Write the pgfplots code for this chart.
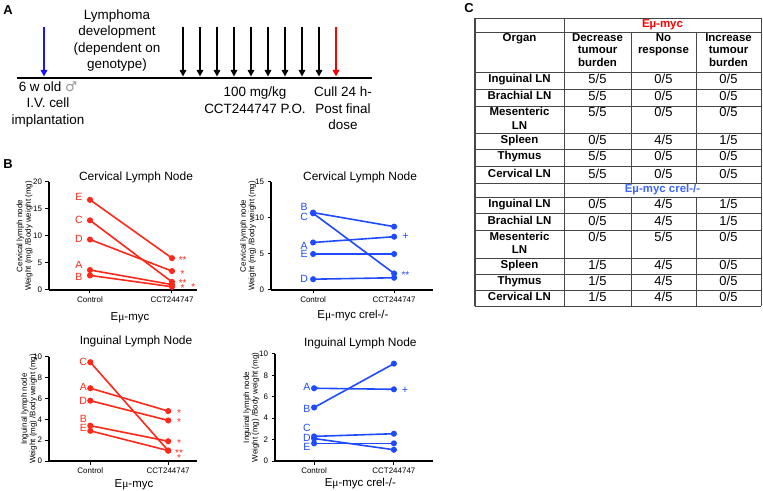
\documentclass[border=0pt]{standalone}
\usepackage{fontspec}
\setmainfont{Liberation Sans}
\newfontfamily\serifmu{Liberation Serif}
\newfontfamily\dejavu{DejaVu Sans}
\usepackage{pgfplots}
\pgfplotsset{compat=1.18}
\usetikzlibrary{arrows.meta}
\definecolor{myred}{RGB}{255,40,25}
\definecolor{myblue}{RGB}{30,75,255}
\definecolor{arrblue}{RGB}{20,20,255}
\definecolor{tabblue}{RGB}{60,100,255}
\definecolor{tabline}{RGB}{70,70,70}
\newcommand{\mmu}{{\serifmu μ}}

\pgfplotsset{
  gp/.style={
    scale only axis, clip=false,
    axis lines=left, axis line style={-, line width=1.2bp, black},
    tick align=outside, major tick length=3.5bp,
    tick style={black, line width=1bp},
    xtick={0,1}, xticklabels={Control,CCT244747},
    tick label style={font=\fontsize{8}{9}\selectfont},
    /pgf/number format/assume math mode=true,
    ymin=0,
    ylabel style={align=center, font=\fontsize{8}{8.6}\selectfont, anchor=center},
    title style={font=\fontsize{12}{14}\selectfont, anchor=center},
    xlabel style={font=\fontsize{11.5}{13}\selectfont, anchor=center},
  },
  rl/.style={color=myred, line width=1.6bp, mark=*, mark size=2.2bp, mark options={fill=myred, draw=myred}},
  bl/.style={color=myblue, line width=1.6bp, mark=*, mark size=2.2bp, mark options={fill=myblue, draw=myblue}},
}
\newcommand{\lab}[4]{\node[text=#1, font=\fontsize{10.5}{11}\selectfont, inner sep=0] at (axis cs:#2,#3) {#4};}
\newcommand{\astk}[4]{\node[text=#1, font=\fontsize{10}{11}\selectfont, inner sep=0, yshift=-2bp] at (axis cs:#2,#3) {#4};}

\tikzset{
  of/.style={font=\bfseries\fontsize{11.5}{13}\selectfont, text height=8.3bp, text depth=2.3bp, inner sep=0},
  hf/.style={font=\bfseries\fontsize{11.5}{13}\selectfont, inner sep=0, anchor=north, align=center},
  vf/.style={font=\fontsize{13}{14}\selectfont, text height=9.4bp, text depth=2.6bp, inner sep=0},
}
\newcommand{\vals}[4]{%
  \node[vf] at (597.5,#1) {#2};
  \node[vf] at (663.5,#1) {#3};
  \node[vf] at (728.5,#1) {#4};}

\begin{document}
\begin{tikzpicture}
\useasboundingbox (0,0) rectangle (763bp,491bp);

%% ---------------- Panel A and C (drawn in pixel coordinates, y downward)
\begin{scope}[x=1bp, y=-1bp, yshift=491bp]
  \node[font=\bfseries\fontsize{13}{14}\selectfont] at (8,10) {A};
  \node[font=\bfseries\fontsize{13}{14}\selectfont] at (8,164) {B};
  \node[font=\bfseries\fontsize{13}{14}\selectfont] at (469,8) {C};

  % timeline
  \draw[line width=2bp] (17,78) -- (372,78);
  \draw[arrblue, line width=1.5bp, -{Triangle[width=6.5bp,length=6.5bp]}] (44,27) -- (44,76.5);
  \foreach \x in {183,200,217,234,251,268,285,302,319}
    \draw[black, line width=1.5bp, -{Triangle[width=6.5bp,length=6.5bp]}] (\x,27) -- (\x,76.5);
  \draw[red, line width=1.5bp, -{Triangle[width=6.5bp,length=6.5bp]}] (336,27) -- (336,76.5);

  \node[align=center, font=\fontsize{13.5}{16.6}\selectfont] at (117,40.5)
    {Lymphoma\\development\\(dependent on\\genotype)};
  \node[align=center, font=\fontsize{13.5}{16.6}\selectfont] at (48,104.5)
    {6 w old {\dejavu\color{gray!80}♂}\\I.V. cell\\implantation};
  \node[align=center, font=\fontsize{13.5}{16.6}\selectfont] at (255,100)
    {100 mg/kg\\CCT244747 P.O.};
  \node[align=center, font=\fontsize{13.5}{16.6}\selectfont] at (343,108.5)
    {Cull 24 h-\\Post final\\dose};

  % table C
  \foreach \yy in {18,32,72.3,89.3,106,133.3,149,166.7,183,197,213,230,258,274,290,306}
    \draw[tabline, line width=0.9bp] (475,\yy) -- (761,\yy);
  \draw[tabline, line width=1.4bp] (475,18) -- (475,306);
  \draw[tabline, line width=0.9bp] (564,18) -- (564,306);
  \draw[tabline, line width=0.9bp] (761,18) -- (761,306);
  \draw[tabline, line width=0.9bp] (631,32) -- (631,183) (696,32) -- (696,183);
  \draw[tabline, line width=0.9bp] (631,197) -- (631,306) (696,197) -- (696,306);

  \node[of, text=red] at (662.5,25) {E\textmu-myc};
  \node[hf] at (519.5,33.5) {Organ};
  \node[hf] at (597.5,33.5) {Decrease\\[-0.6bp]tumour\\[-0.6bp]burden};
  \node[hf] at (663.5,33.5) {No\\[-0.6bp]response};
  \node[hf] at (728.5,33.5) {Increase\\[-0.6bp]tumour\\[-0.6bp]burden};

  \node[of] at (519.5,80) {Inguinal LN};   \vals{80.5}{5/5}{0/5}{0/5}
  \node[of] at (519.5,97) {Brachial LN};   \vals{97.5}{5/5}{0/5}{0/5}
  \node[of] at (519.5,112.7) {Mesenteric}; \node[of] at (519.5,126.3) {LN};
                                           \vals{113}{5/5}{0/5}{0/5}
  \node[of] at (519.5,141) {Spleen};       \vals{141.5}{0/5}{4/5}{1/5}
  \node[of] at (519.5,157) {Thymus};       \vals{157.5}{5/5}{0/5}{0/5}
  \node[of] at (519.5,174.5) {Cervical LN};\vals{175}{5/5}{0/5}{0/5}

  \node[of, text=tabblue] at (662.5,190) {E\textmu-myc crel-/-};

  \node[of] at (519.5,205) {Inguinal LN};  \vals{205.5}{0/5}{4/5}{1/5}
  \node[of] at (519.5,221.5) {Brachial LN};\vals{222}{0/5}{4/5}{1/5}
  \node[of] at (519.5,237.3) {Mesenteric}; \node[of] at (519.5,250.7) {LN};
                                           \vals{238}{0/5}{5/5}{0/5}
  \node[of] at (519.5,266) {Spleen};       \vals{266.5}{1/5}{4/5}{0/5}
  \node[of] at (519.5,282) {Thymus};       \vals{282.5}{1/5}{4/5}{0/5}
  \node[of] at (519.5,298) {Cervical LN};  \vals{298.5}{1/5}{4/5}{0/5}
\end{scope}

%% ---------------- Top-left: Eu-myc cervical
\begin{axis}[gp, at={(49bp,201bp)}, anchor=south west, width=148bp, height=108bp,
  xmin=-0.5, xmax=1.305, ymax=20, ytick={0,5,10,15,20},
  title={Cervical Lymph Node}, title style={at={(axis description cs:0.588,0.99)}},
  xlabel={E\mmu-myc}, xlabel style={at={(axis description cs:0.547,-0.26)}},
  ylabel={Cervical lymph node\\Weight (mg) /Body weight (mg)},
  ylabel style={at={(axis description cs:-0.165,0.5)}}]
\addplot[rl] coordinates {(0,3.7) (1,1.0)};
\addplot[rl] coordinates {(0,2.7) (1,0.6)};
\addplot[rl] coordinates {(0,12.9) (1,1.5)};
\addplot[rl] coordinates {(0,9.35) (1,3.5)};
\addplot[rl] coordinates {(0,16.7) (1,5.9)};
\lab{myred}{-0.135}{17.2}{E}
\lab{myred}{-0.135}{12.9}{C}
\lab{myred}{-0.135}{9.5}{D}
\lab{myred}{-0.135}{4.6}{A}
\lab{myred}{-0.135}{2.5}{B}
\astk{myred}{1.13}{5.9}{**}
\astk{myred}{1.13}{3.4}{*}
\astk{myred}{1.13}{1.6}{**}
\astk{myred}{1.13}{0.65}{*}
\astk{myred}{1.26}{0.9}{*}
\end{axis}

%% ---------------- Top-right: Eu-myc crel-/- cervical
\begin{axis}[gp, at={(271bp,201bp)}, anchor=south west, width=162bp, height=108bp,
  xmin=-0.52, xmax=1.48, ymax=15, ytick={0,5,10,15},
  title={Cervical Lymph Node}, title style={at={(axis description cs:0.55,0.99)}},
  xlabel={E\mmu-myc crel-/-}, xlabel style={at={(axis description cs:0.506,-0.24)}},
  ylabel={Cervical lymph node\\Weight (mg) /Body weight (mg)},
  ylabel style={at={(axis description cs:-0.142,0.5)}}]
\addplot[bl] coordinates {(0,6.6) (1,7.4)};
\addplot[bl] coordinates {(0,10.75) (1,8.8)};
\addplot[bl] coordinates {(0,10.65) (1,2.3)};
\addplot[bl] coordinates {(0,1.5) (1,1.7)};
\addplot[bl] coordinates {(0,5.0) (1,5.0)};
\lab{myblue}{-0.11}{11.5}{B}
\lab{myblue}{-0.11}{10.1}{C}
\lab{myblue}{-0.11}{6.1}{A}
\lab{myblue}{-0.11}{5.0}{E}
\lab{myblue}{-0.11}{1.5}{D}
\node[text=myblue, font=\fontsize{11}{12}\selectfont, inner sep=0] at (axis cs:1.14,7.4) {+};
\astk{myblue}{1.14}{2.4}{**}
\end{axis}

%% ---------------- Bottom-left: Eu-myc inguinal
\begin{axis}[gp, at={(49bp,30bp)}, anchor=south west, width=148bp, height=104bp,
  xmin=-0.53, xmax=1.37, ymax=10, ytick={0,2,4,6,8,10},
  title={Inguinal Lymph Node}, title style={at={(axis description cs:0.588,1.096)}},
  xlabel={E\mmu-myc}, xlabel style={at={(axis description cs:0.574,-0.23)}},
  ylabel={Inguinal lymph node\\Weight (mg) /Body weight (mg)},
  ylabel style={at={(axis description cs:-0.135,0.5)}}]
\addplot[rl] coordinates {(0,7.0) (1,4.8)};
\addplot[rl] coordinates {(0,3.4) (1,1.9)};
\addplot[rl] coordinates {(0,9.5) (1,1.0)};
\addplot[rl] coordinates {(0,5.8) (1,3.9)};
\addplot[rl] coordinates {(0,2.9) (1,1.0)};
\lab{myred}{-0.09}{9.5}{C}
\lab{myred}{-0.09}{7.1}{A}
\lab{myred}{-0.09}{5.8}{D}
\lab{myred}{-0.09}{4.05}{B}
\lab{myred}{-0.09}{3.2}{E}
\astk{myred}{1.14}{4.8}{*}
\astk{myred}{1.14}{3.9}{*}
\astk{myred}{1.14}{1.9}{*}
\astk{myred}{1.14}{1.0}{**}
\astk{myred}{1.14}{0.45}{*}
\end{axis}

%% ---------------- Bottom-right: Eu-myc crel-/- inguinal
\begin{axis}[gp, at={(275bp,30bp)}, anchor=south west, width=158bp, height=107bp,
  xmin=-0.49, xmax=1.49, ymax=10, ytick={0,2,4,6,8,10},
  title={Inguinal Lymph Node}, title style={at={(axis description cs:0.54,1.04)}},
  xlabel={E\mmu-myc crel-/-}, xlabel style={at={(axis description cs:0.54,-0.215)}},
  ylabel={Inguinal lymph node\\Weight (mg) /Body weight (mg)},
  ylabel style={at={(axis description cs:-0.15,0.5)}}]
\addplot[bl] coordinates {(0,6.8) (1,6.7)};
\addplot[bl] coordinates {(0,5.0) (1,9.1)};
\addplot[bl] coordinates {(0,2.3) (1,2.55)};
\addplot[bl] coordinates {(0,2.1) (1,1.05)};
\addplot[bl] coordinates {(0,1.65) (1,1.65)};
\lab{myblue}{-0.09}{6.9}{A}
\lab{myblue}{-0.09}{4.9}{B}
\lab{myblue}{-0.09}{3.1}{C}
\lab{myblue}{-0.09}{2.2}{D}
\lab{myblue}{-0.09}{1.3}{E}
\node[text=myblue, font=\fontsize{11}{12}\selectfont, inner sep=0] at (axis cs:1.14,6.65) {+};
\end{axis}
\end{tikzpicture}
\end{document}
